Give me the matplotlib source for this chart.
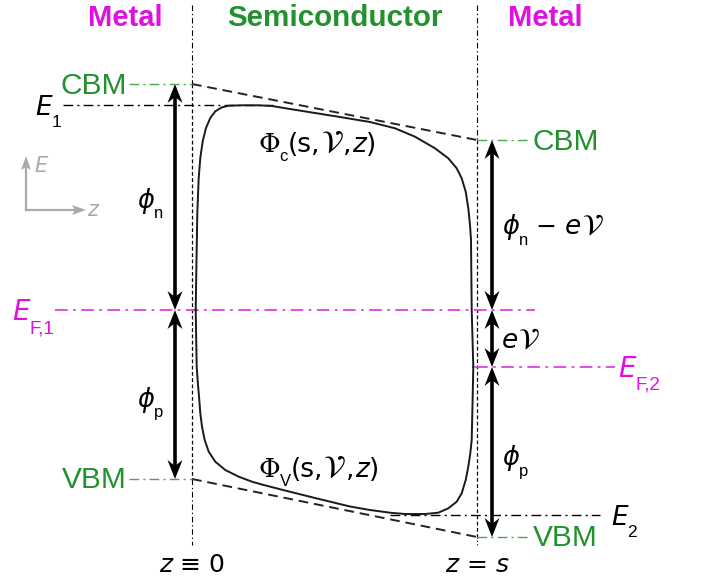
import matplotlib
matplotlib.use("Agg")
import matplotlib.pyplot as plt
from matplotlib.patches import Polygon

plt.rcParams['mathtext.fontset'] = 'stixsans'

# ---------------- data (pixel-space schematic) ----------------
z_iface = [192, 477]          # x of metal/semiconductor interfaces (z=0, z=s)
cbm_level = [84, 140]         # conduction band minimum at left / right
vbm_level = [479, 537]        # valence band maximum at left / right
fermi_level = [310, 367]      # E_F,1 and E_F,2
E1_level = 105
E2_level = 514.5

# Phi_c(s,V,z) curve
phic_x = [195.7, 196.5, 197.3, 198.7, 200.3, 202.7, 206, 210.3, 215.3, 222, 228.7, 242,
          258.7, 272, 290, 315, 340, 370, 395, 415, 435, 448.3, 456.7, 461.7, 465.7,
          468.3, 470, 471, 471.7, 473.3]
phic_y = [310, 260, 213, 178, 158, 141.3, 128, 118, 111.3, 107.3, 105.7, 105.3,
          105.3, 106, 109, 113, 117, 122, 128.3, 136.7, 148.3, 158.3, 168.3, 178.3, 191.7,
          208.3, 225, 240, 310, 367]
# Phi_V(s,V,z) curve
phiv_x = [195.7, 196.7, 198, 199.3, 200.3, 202, 204.7, 208.7, 215.3, 225.3, 238.7, 252,
          263.7, 285, 315, 350, 370, 390, 405, 425, 438.3, 448.3, 456.7, 461.7, 465.7,
          468.3, 470.3, 471.7, 472.5, 473.3]
phiv_y = [310, 367, 385, 400, 413.3, 426.7, 440, 451.7, 461.7, 470, 476.7, 481.7,
          485, 490.5, 498, 506.5, 510, 512.7, 514, 514, 512.7, 508.3, 501.7, 493.3, 480,
          466.7, 453.3, 440, 405, 367]

GREEN = '#23912d'
MAG = '#e010e0'
GRAY = '#aaaaaa'

fig = plt.figure(figsize=(7.02, 5.81), dpi=100)
ax = fig.add_axes([0, 0, 1, 1])
ax.set_xlim(0, 702)
ax.set_ylim(581, 0)
ax.axis('off')
R = fig.canvas.get_renderer()

SANS = 'Liberation Sans'


def chain(x, y, parts, ha='left'):
    texts = []
    cx = x
    for s, kw in parts:
        kw = dict(kw)
        dy = kw.pop('dy', 0)
        t = ax.text(cx, y + dy, s, ha='left', va='baseline', **kw)
        w = t.get_window_extent(renderer=R).width
        texts.append(t)
        cx += w
    if ha == 'center':
        total = cx - x
        for t in texts:
            px, py = t.get_position()
            t.set_position((px - total / 2, py))
    return texts


dashdot = (0, (7, 3, 1.5, 3))
dd_fine = (0, (5, 2.5, 1.2, 2.5))

# vertical interface lines
zl, zr = z_iface
ax.plot([zl, zl], [5, cbm_level[0]], color='k', lw=0.8, ls=dd_fine)
ax.plot([zl, zl], [cbm_level[0], vbm_level[0]], color='k', lw=0.9, ls=(0, (3, 2)))
ax.plot([zl, zl], [vbm_level[0], 545], color='k', lw=0.8, ls=dd_fine)
ax.plot([zr, zr], [5, cbm_level[1]], color='k', lw=0.8, ls=dd_fine)
ax.plot([zr, zr], [cbm_level[1], vbm_level[1]], color='k', lw=0.9, ls=(0, (3, 2)))
ax.plot([zr, zr], [vbm_level[1], 545], color='k', lw=0.8, ls=(0, (1, 2)))

# band edges (dashed)
ax.plot(z_iface, cbm_level, color='#222222', lw=1.4, ls=(0, (5, 3)))
ax.plot(z_iface, vbm_level, color='#222222', lw=1.4, ls=(0, (5, 3)))

# horizontal guide lines
ax.plot([129, zl], [cbm_level[0]] * 2, color='#4aa84a', lw=1.0, ls=dashdot)
ax.plot([129, zl], [vbm_level[0]] * 2, color='#4aa84a', lw=1.0, ls=dashdot)
ax.plot([zr, 530], [cbm_level[1]] * 2, color='#4aa84a', lw=1.0, ls=dashdot)
ax.plot([zr, 530], [vbm_level[1]] * 2, color='#4aa84a', lw=1.0, ls=dashdot)
ax.plot([63, 273], [E1_level] * 2, color='k', lw=1.0, ls=dashdot)
ax.plot([390, 600], [E2_level] * 2, color='k', lw=1.0, ls=dashdot)
ax.plot([55, 535], [fermi_level[0]] * 2, color='#e040e0', lw=1.3, ls=dashdot)
ax.plot([475, 615], [fermi_level[1]] * 2, color='#e040e0', lw=1.3, ls=dashdot)

# potential curves
ax.plot(phic_x, phic_y, color='#1a1a1a', lw=1.4, solid_joinstyle='round')
ax.plot(phiv_x, phiv_y, color='#1a1a1a', lw=1.4, solid_joinstyle='round')


# arrows
def head(x, ytip, d):
    L, W, C = 19, 7.5, 13
    ax.add_patch(Polygon([(x, ytip), (x - W, ytip + d * L), (x, ytip + d * C),
                          (x + W, ytip + d * L)], closed=True, color='k', lw=0))


def darrow(x, y1, y2):
    ax.plot([x, x], [y1 + 12, y2 - 12], color='k', lw=2.6, solid_capstyle='butt')
    head(x, y1, +1)
    head(x, y2, -1)


darrow(175, cbm_level[0], fermi_level[0])
darrow(175, fermi_level[0], vbm_level[0])
darrow(492, cbm_level[1], fermi_level[0])
darrow(492, fermi_level[0], fermi_level[1])
darrow(492, fermi_level[1], vbm_level[1])

# E / z axis icon
ax.plot([26, 26], [210, 165], color=GRAY, lw=1.6)
ax.plot([26, 76], [210, 210], color=GRAY, lw=1.6)
ax.add_patch(Polygon([(26, 156), (21, 170), (26, 167), (31, 170)], color=GRAY, lw=0))
ax.add_patch(Polygon([(86, 210), (72, 205), (75, 210), (72, 215)], color=GRAY, lw=0))
ax.text(34, 172, 'E', color=GRAY, fontsize=15, style='italic', family='DejaVu Sans',
        va='baseline')
ax.text(87, 216, 'z', color=GRAY, fontsize=15, style='italic', family='DejaVu Sans',
        va='baseline')

# titles
ax.text(125, 26, 'Metal', color=MAG, fontsize=21, fontweight='bold', family=SANS,
        ha='center', va='baseline')
ax.text(335, 26, 'Semiconductor', color=GREEN, fontsize=21.3, fontweight='bold',
        family=SANS, ha='center', va='baseline')
ax.text(545, 26, 'Metal', color=MAG, fontsize=21, fontweight='bold', family=SANS,
        ha='center', va='baseline')

# band labels
for txt, x, y, ha in [('CBM', 127, cbm_level[0], 'right'), ('VBM', 127, vbm_level[0], 'right'),
                      ('CBM', 533, cbm_level[1], 'left'), ('VBM', 533, vbm_level[1], 'left')]:
    ax.text(x, y + 9.5, txt, color=GREEN, fontsize=21.5, family=SANS, ha=ha, va='baseline')

it = dict(family='DejaVu Sans', style='italic')
# E1, E2, EF1, EF2
chain(35, 115, [('E', dict(fontsize=19, color='k', **it)),
                ('1', dict(fontsize=12.5, color='k', family=SANS, dy=12))])
chain(611, 525, [('E', dict(fontsize=19, color='k', **it)),
                 ('2', dict(fontsize=12.5, color='k', family=SANS, dy=12))])
chain(12, 320, [('E', dict(fontsize=20, color=MAG, **it)),
                ('F,1', dict(fontsize=13.5, color=MAG, family=SANS, dy=13))])
chain(618, 377, [('E', dict(fontsize=20, color=MAG, **it)),
                 ('F,2', dict(fontsize=13.5, color=MAG, family=SANS, dy=13))])

# phi labels
chain(137, 208, [('ϕ', dict(fontsize=18.5, **it)),
                 ('n', dict(fontsize=12, family=SANS, dy=10))])
chain(137, 407, [('ϕ', dict(fontsize=18.5, **it)),
                 ('p', dict(fontsize=12, family=SANS, dy=10))])
chain(502, 234, [('ϕ', dict(fontsize=18.5, **it)),
                 ('n', dict(fontsize=12, family=SANS, dy=11)),
                 (' − ', dict(fontsize=18, family='DejaVu Sans')),
                 ('e', dict(fontsize=19, **it)),
                 (r'$\mathcal{V}$', dict(fontsize=21))])
chain(502, 348, [('e', dict(fontsize=19, **it)),
                 (r'$\mathcal{V}$', dict(fontsize=21))])
chain(502, 465, [('ϕ', dict(fontsize=18.5, **it)),
                 ('p', dict(fontsize=12, family=SANS, dy=11))])

# Phi_c / Phi_V labels
for y0, sub in [(152, 'c'), (477, 'V')]:
    chain(258, y0, [('Φ', dict(fontsize=19, family='DejaVu Serif')),
                    (sub, dict(fontsize=12, family=SANS, dy=9)),
                    ('(s,', dict(fontsize=19, family='DejaVu Sans')),
                    (r'$\mathcal{V}$', dict(fontsize=22)),
                    (',', dict(fontsize=19, family='DejaVu Sans')),
                    ('z', dict(fontsize=19, **it)),
                    (')', dict(fontsize=19, family='DejaVu Sans'))])

# z labels
chain(192, 572, [('z', dict(fontsize=18, **it)),
                 (' ≡ 0', dict(fontsize=18, family='DejaVu Sans'))], ha='center')
chain(477, 572, [('z', dict(fontsize=18, **it)),
                 (' = ', dict(fontsize=18, family='DejaVu Sans')),
                 ('s', dict(fontsize=18, **it))], ha='center')

fig.savefig('out.png', dpi=100)
